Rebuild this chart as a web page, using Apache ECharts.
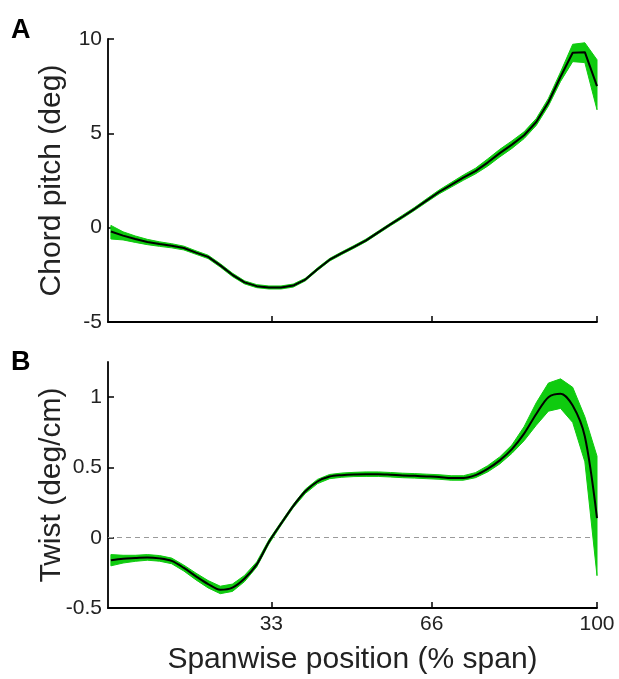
<!DOCTYPE html>
<html>
<head>
<meta charset="utf-8">
<script src="https://cdn.jsdelivr.net/npm/echarts@6.0.0/dist/echarts.min.js"></script>
<style>
  html, body { margin: 0; padding: 0; background: #fff; }
  #chart { width: 619px; height: 679px; }
</style>
</head>
<body>
<div id="chart"></div>
<script>
// spanwise stations (% span)
var spanX = [0, 2.5, 5, 7.5, 10, 12.5, 15, 17.5, 20, 22.5, 25, 27.5, 30, 32.5, 35, 37.5, 40, 42.5, 45, 47.5,
  50, 52.5, 55, 57.5, 60, 62.5, 65, 67.5, 70, 72.5, 75, 77.5, 80, 82.5, 85, 87.5, 90, 92.5, 95, 97.5, 100];

// panel A - chord pitch (deg): mean and shaded band edges
var pitchMean = [-0.2, -0.42, -0.6, -0.76, -0.87, -0.96, -1.08, -1.32, -1.55, -2.0, -2.5, -2.9, -3.1, -3.17, -3.17, -3.07, -2.75, -2.2, -1.7, -1.35,
  -1.02, -0.67, -0.25, 0.17, 0.58, 1.0, 1.45, 1.89, 2.27, 2.65, 3.0, 3.45, 3.95, 4.4, 4.9, 5.6, 6.65, 8.0, 9.27, 9.3, 7.5];
var pitchUpper = [0.12, -0.22, -0.44, -0.62, -0.75, -0.85, -0.98, -1.23, -1.46, -1.91, -2.41, -2.82, -3.02, -3.09, -3.09, -2.99, -2.68, -2.13, -1.63, -1.28,
  -0.95, -0.6, -0.18, 0.24, 0.66, 1.08, 1.54, 1.99, 2.39, 2.79, 3.15, 3.64, 4.15, 4.6, 5.08, 5.78, 6.85, 8.25, 9.72, 9.8, 8.9];
var pitchLower = [-0.6, -0.65, -0.78, -0.9, -0.99, -1.07, -1.18, -1.41, -1.64, -2.09, -2.59, -2.98, -3.18, -3.25, -3.25, -3.15, -2.82, -2.27, -1.77, -1.42,
  -1.09, -0.74, -0.32, 0.1, 0.5, 0.92, 1.36, 1.79, 2.15, 2.51, 2.85, 3.26, 3.75, 4.2, 4.72, 5.42, 6.45, 7.75, 8.8, 8.75, 6.25];

// panel B - twist (deg/cm)
var twistMean = [-0.16, -0.15, -0.145, -0.14, -0.147, -0.165, -0.215, -0.275, -0.33, -0.37, -0.355, -0.29, -0.19, -0.03, 0.1, 0.225, 0.33, 0.4, 0.435, 0.445,
  0.45, 0.452, 0.452, 0.448, 0.443, 0.44, 0.436, 0.432, 0.425, 0.425, 0.445, 0.49, 0.55, 0.63, 0.74, 0.88, 1.0, 1.025, 0.94, 0.72, 0.14];
var twistUpper = [-0.12, -0.125, -0.125, -0.12, -0.127, -0.145, -0.195, -0.252, -0.305, -0.345, -0.33, -0.268, -0.172, -0.015, 0.112, 0.237, 0.345, 0.415, 0.45, 0.46,
  0.465, 0.468, 0.468, 0.464, 0.459, 0.456, 0.452, 0.448, 0.441, 0.441, 0.463, 0.512, 0.575, 0.66, 0.79, 0.96, 1.1, 1.13, 1.07, 0.86, 0.58];
var twistLower = [-0.2, -0.18, -0.168, -0.16, -0.167, -0.185, -0.237, -0.3, -0.357, -0.398, -0.382, -0.312, -0.208, -0.045, 0.088, 0.213, 0.315, 0.385, 0.42, 0.43,
  0.435, 0.436, 0.436, 0.432, 0.427, 0.424, 0.42, 0.416, 0.409, 0.409, 0.427, 0.468, 0.525, 0.6, 0.69, 0.8, 0.9, 0.92, 0.82, 0.54, -0.27];

// tick values
var xTicks = [33, 66, 100];
var pitchTicks = [-5, 0, 5, 10];
var twistTicks = [-0.5, 0, 0.5, 1];

var FONT = '"Liberation Sans", Arial, Helvetica, sans-serif';
var GREEN = '#0fcb0f';

function pairs(ys) {
  return spanX.map(function (x, i) { return [x, ys[i]]; });
}

function xAxisCfg(idx, withLabels) {
  return {
    type: 'value', gridIndex: idx, min: -0.6, max: 100,
    splitLine: { show: false },
    axisLine: { onZero: false, lineStyle: { color: '#000', width: 1.8 } },
    axisTick: { inside: true, length: 6, customValues: xTicks, lineStyle: { color: '#000', width: 1.5 } },
    axisLabel: { show: withLabels, customValues: xTicks, margin: 6, fontSize: 21, color: '#222', fontFamily: FONT },
    name: withLabels ? 'Spanwise position (% span)' : '',
    nameLocation: 'middle', nameGap: 37, nameMoveOverlap: false,
    nameTextStyle: { fontSize: 30, color: '#222', fontFamily: FONT }
  };
}

function yAxisCfg(idx, min, max, ticks, name) {
  return {
    type: 'value', gridIndex: idx, min: min, max: max,
    splitLine: { show: false },
    axisLine: { onZero: false, lineStyle: { color: '#000', width: 1.8 } },
    axisTick: { inside: true, length: 6, customValues: ticks, lineStyle: { color: '#000', width: 1.5 } },
    axisLabel: { customValues: ticks, margin: 6, fontSize: 21, color: '#222', fontFamily: FONT },
    name: name, nameLocation: 'middle', nameGap: 41, nameMoveOverlap: false,
    nameTextStyle: { fontSize: 30, color: '#222', fontFamily: FONT }
  };
}

// shaded band as one polygon, upper edge out and lower edge back
function bandSeries(idx, hi, lo) {
  return {
    type: 'custom', xAxisIndex: idx, yAxisIndex: idx, silent: true, z: 2,
    data: spanX.map(function (x, i) { return [x, lo[i], hi[i]]; }),
    encode: { x: 0, y: [1, 2] },
    renderItem: function (params, api) {
      if (params.dataIndex !== 0) return null;
      var pts = [];
      for (var i = 0; i < spanX.length; i++) pts.push(api.coord([spanX[i], hi[i]]));
      for (var j = spanX.length - 1; j >= 0; j--) pts.push(api.coord([spanX[j], lo[j]]));
      return {
        type: 'polygon',
        shape: { points: pts },
        style: { fill: GREEN, stroke: GREEN, lineWidth: 1 }
      };
    }
  };
}

function meanSeries(idx, mean, smooth, withZeroLine) {
  var s = {
    type: 'line', xAxisIndex: idx, yAxisIndex: idx, smooth: smooth,
    data: pairs(mean), symbol: 'none', lineStyle: { color: '#000', width: 2 }, z: 3, silent: true
  };
  if (withZeroLine) {
    s.markLine = {
      silent: true, symbol: 'none', label: { show: false }, z: 1,
      lineStyle: { color: '#9a9a9a', type: [5, 4], width: 1.2 },
      data: [[{ coord: [-0.6, 0] }, { coord: [98.6, 0] }]]
    };
  }
  return s;
}

var chart = echarts.init(document.getElementById('chart'), null, { renderer: 'canvas' });

var option = {
  backgroundColor: '#ffffff',
  animation: false,
  grid: [
    { left: 108, top: 39, width: 489, height: 283 },
    { left: 108, top: 362, width: 489, height: 246 }
  ],
  xAxis: [xAxisCfg(0, false), xAxisCfg(1, true)],
  yAxis: [
    yAxisCfg(0, -5, 10, pitchTicks, 'Chord pitch (deg)'),
    yAxisCfg(1, -0.5, 1.25, twistTicks, 'Twist (deg/cm)')
  ],
  graphic: [
    { type: 'text', left: 11, top: 17, style: { text: 'A', font: 'bold 27px ' + FONT, fill: '#000' } },
    { type: 'text', left: 11, top: 349, style: { text: 'B', font: 'bold 27px ' + FONT, fill: '#000' } }
  ],
  series: [
    bandSeries(0, pitchUpper, pitchLower),
    meanSeries(0, pitchMean, false, false),
    bandSeries(1, twistUpper, twistLower),
    meanSeries(1, twistMean, 0.3, true)
  ]
};

chart.setOption(option);
</script>
</body>
</html>
